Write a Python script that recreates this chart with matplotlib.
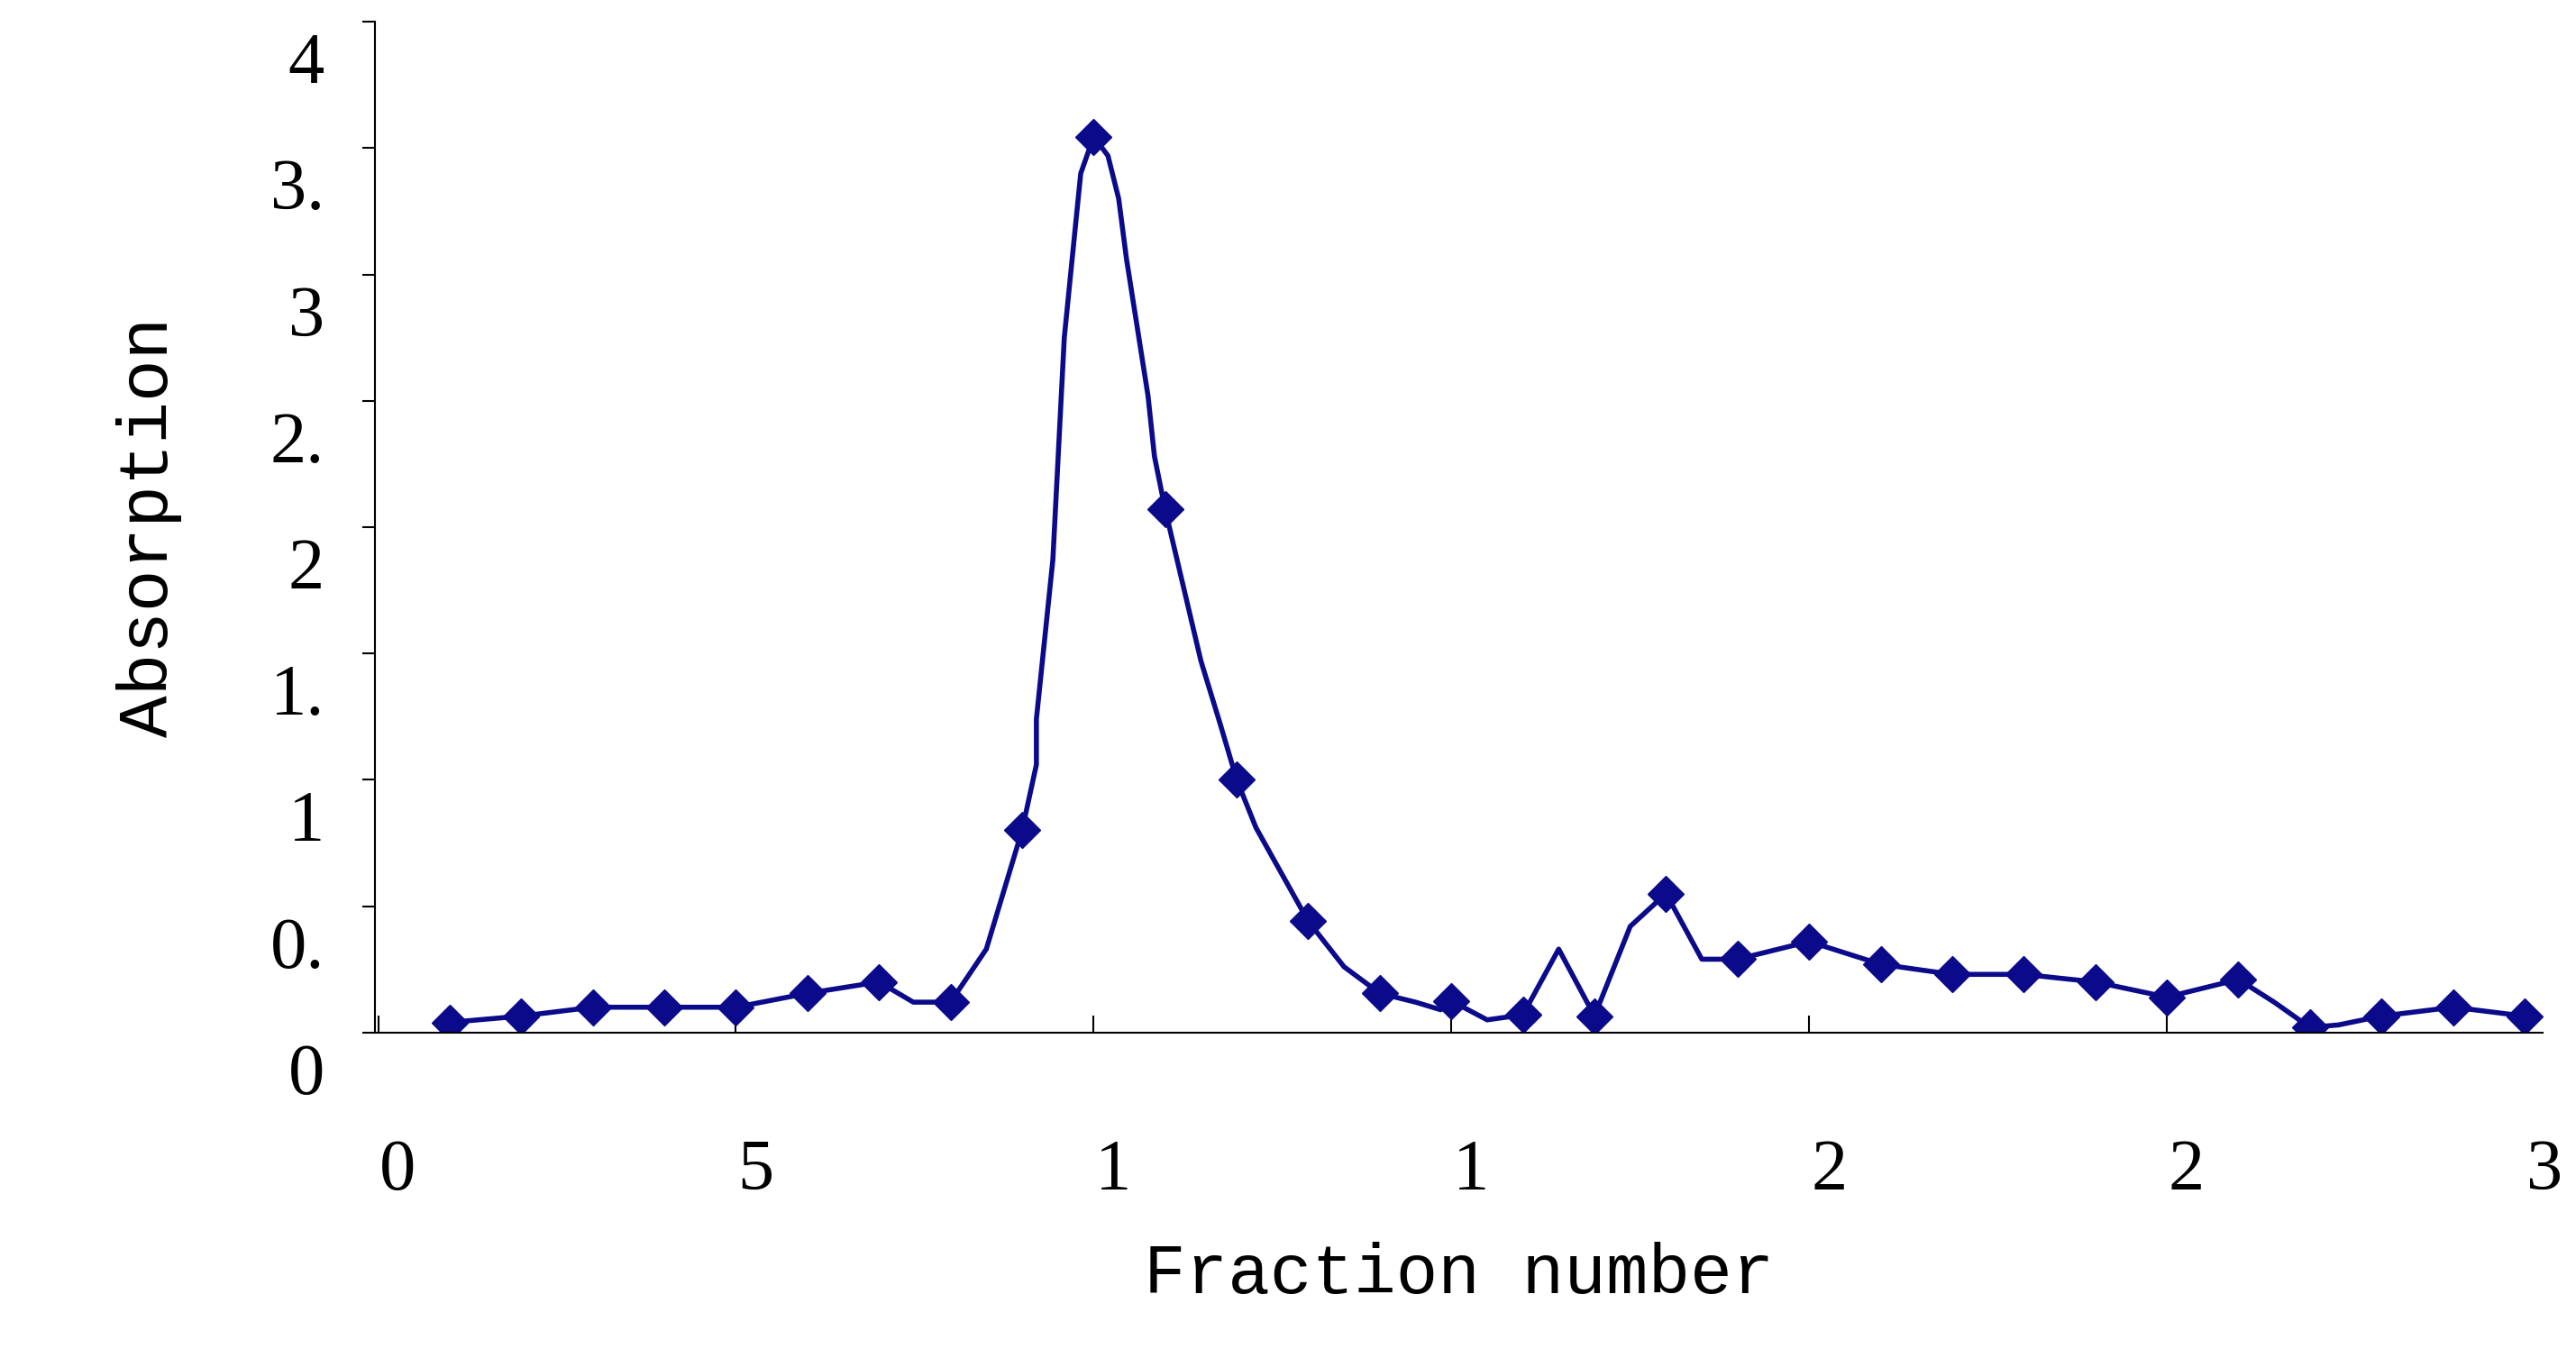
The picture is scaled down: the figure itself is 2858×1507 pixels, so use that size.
import matplotlib
matplotlib.use("Agg")
import matplotlib.pyplot as plt
import matplotlib.transforms as mtransforms

fractions = list(range(1, 31))
absorption = [0.04, 0.065, 0.10, 0.10, 0.10, 0.155, 0.20, 0.12, 0.80, 3.545,
              2.07, 1.00, 0.44, 0.155, 0.125, 0.07, 0.065, 0.55, 0.29, 0.36,
              0.27, 0.23, 0.23, 0.20, 0.14, 0.21, 0.02, 0.065, 0.10, 0.065]

# extra points of the drawn curve between markers
curve_x = [7.48, 8.5, 9.2, 9.2, 9.43, 9.59, 9.77, 9.82, 10.2, 10.35, 10.46, 10.76, 10.85,
           11.5, 11.77, 12.27, 13.5, 14.5, 14.85, 15.5, 16.5, 17.5, 18.5, 26.5, 27.4]
curve_y = [0.12, 0.33, 1.06, 1.24, 1.87, 2.75, 3.26, 3.4, 3.47, 3.3, 3.06, 2.52, 2.28,
           1.47, 1.22, 0.81, 0.26, 0.12, 0.09, 0.05, 0.33, 0.42, 0.29, 0.12, 0.03]

yticks = [0, 0.5, 1, 1.5, 2, 2.5, 3, 3.5, 4]
ytick_labels = ["0", "0.", "1", "1.", "2", "2.", "3", "3.", "4"]
xticks = [0, 5, 10, 15, 20, 25, 30]
xtick_labels = ["0", "5", "1", "1", "2", "2", "3"]

pts = sorted(list(zip(fractions, absorption)) + list(zip(curve_x, curve_y)))
lx = [p[0] for p in pts]
ly = [p[1] for p in pts]

color = "#0a0a8a"
fig = plt.figure(figsize=(28.58, 15.07), dpi=100)
ax = fig.add_axes([0.1454, 0.2397, 0.987 - 0.1454, 0.984 - 0.2397])
ax.plot(lx, ly, color=color, lw=4)
ax.plot(fractions, absorption, linestyle="none", marker="D", ms=20, color=color)
ax.set_xlim(-0.05, 30.25)
ax.set_ylim(0, 4)
for s in ["top", "right"]:
    ax.spines[s].set_visible(False)
for s in ["left", "bottom"]:
    ax.spines[s].set_linewidth(1.5)
font = "Liberation Mono"
ax.set_yticks(yticks)
ax.set_yticklabels(ytick_labels, fontsize=58, family="Liberation Serif")
ax.set_xticks(xticks)
ax.set_xticklabels(xtick_labels, fontsize=58, family="Liberation Serif")
ax.tick_params(axis="y", direction="out", length=10, width=1.5, pad=30)
ax.tick_params(axis="x", direction="in", length=14, width=1.5, pad=85)
for lab in ax.get_yticklabels():
    lab.set_transform(lab.get_transform() + mtransforms.ScaledTranslation(0, -0.4, fig.dpi_scale_trans))
for lab in ax.get_xticklabels():
    lab.set_transform(lab.get_transform() + mtransforms.ScaledTranslation(0.22, 0, fig.dpi_scale_trans))
ax.set_xlabel("Fraction number", fontsize=56, family=font, labelpad=30)
ax.set_ylabel("Absorption", fontsize=56, family=font, labelpad=70)
fig.savefig("out.png", dpi=100)
